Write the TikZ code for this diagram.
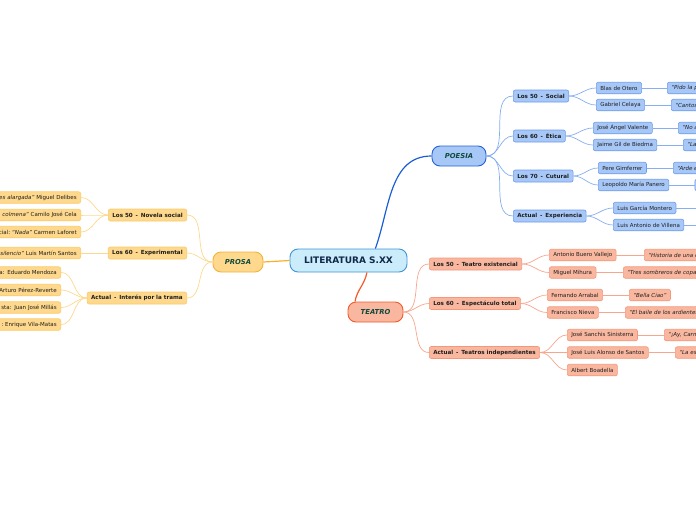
\documentclass[tikz,border=0pt]{standalone}
\usepackage{fontspec}
\setmainfont{DejaVu Sans}
\usetikzlibrary{positioning}
\definecolor{litF}{HTML}{CBEDFB}
\definecolor{litB}{HTML}{3F94D6}
\definecolor{litT}{HTML}{12284A}
\definecolor{verde}{HTML}{0E4A3C}
\definecolor{txt}{HTML}{1E1E1E}
\definecolor{proF}{HTML}{FED88C}
\definecolor{proB}{HTML}{F4B23A}
\definecolor{proS}{HTML}{FBCB6A}
\definecolor{proL}{HTML}{FDD890}
\definecolor{proM}{HTML}{F6B12A}
\definecolor{poeF}{HTML}{A7C7F7}
\definecolor{poeB}{HTML}{2563D9}
\definecolor{poeS}{HTML}{6E9CEC}
\definecolor{poeL}{HTML}{86AEF0}
\definecolor{poeM}{HTML}{1A5ED6}
\definecolor{teaF}{HTML}{F9B7A0}
\definecolor{teaB}{HTML}{F05C2C}
\definecolor{teaS}{HTML}{F4977A}
\definecolor{teaL}{HTML}{F7A68E}
\definecolor{teaM}{HTML}{F25A28}

\begin{document}
\begin{tikzpicture}[x=1pt,y=-1pt,
    box/.style={rounded corners=2pt,line width=0.6pt,inner xsep=4pt,inner ysep=0pt,minimum height=12pt,text=txt},
    rama/.style={box,font=\fontsize{5.6}{6.5}\selectfont\bfseries},
    hoja/.style={box,font=\fontsize{5.5}{6.5}\selectfont,minimum height=11.5pt},
    tema/.style={rounded corners=8pt,line width=0.9pt,minimum height=20pt,inner xsep=2pt,font=\fontsize{6.8}{8}\selectfont\bfseries\itshape,text=verde},
    cortaL/.style={anchor=east,text width=110pt,align=right},
    cortaR/.style={anchor=west,text width=150pt,align=left},
    pro/.style={draw=proS,fill=proF},
    poe/.style={draw=poeS,fill=poeF},
    tea/.style={draw=teaS,fill=teaF},
    lpro/.style={draw=proL,line width=0.7pt},
    lpoe/.style={draw=poeL,line width=0.7pt},
    ltea/.style={draw=teaL,line width=0.7pt}]
  \useasboundingbox (0,0) rectangle (696,520);
  \clip (0,0) rectangle (696,520);

  \node[rounded corners=8pt,draw=litB,fill=litF,line width=0.9pt,minimum width=117pt,minimum height=23pt,
        font=\fontsize{9}{10}\selectfont\bfseries,text=litT] (LIT) at (348.5,260.5) {LITERATURA S.XX};

  \node[tema,draw=proB,fill=proF,minimum width=50pt] (PRO) at (238,262) {PROSA};
  \node[tema,draw=poeB,fill=poeF,minimum width=54pt] (POE) at (459,156) {POESIA};
  \node[tema,draw=teaB,fill=teaF,minimum width=55pt] (TEA) at (375.5,312) {TEATRO};

  % prosa
  \node[rama,pro,anchor=east] (PRO1) at (187,215) {Los 50\,\ -\ \,Novela social};
  \node[rama,pro,anchor=east] (PRO2) at (187,253) {Los 60\,\ -\ \,Experimental};
  \node[rama,pro,anchor=east] (PRO3) at (187,298) {Actual\,\ -\ \,Interés por la trama};

  \node[hoja,pro,cortaL] (PRO1a) at (81,197.5) {\textit{es alargada”} Miguel Delibes};
  \node[hoja,pro,cortaL] (PRO1b) at (81,215) {\textit{a colmena”} Camilo José Cela};
  \node[hoja,pro,cortaL] (PRO1c) at (81,232) {cial:\ \textit{“Nada”} Carmen Laforet};
  \node[hoja,pro,cortaL] (PRO2a) at (81,253) {\textit{silencio”} Luis Martín Santos};
  \node[hoja,pro,cortaL] (PRO3a) at (61,272.5) {a: Eduardo Mendoza};
  \node[hoja,pro,cortaL] (PRO3b) at (61,290) {Arturo Pérez-Reverte};
  \node[hoja,pro,cortaL] (PRO3c) at (61,307.5) {sta: Juan José Millás};
  \node[hoja,pro,cortaL] (PRO3d) at (61,324.5) {:\ Enrique Vila-Matas};

  % poesia
  \node[rama,poe,anchor=west] (POE1) at (513,96) {Los 50\,\ -\ \,Social};
  \node[rama,poe,anchor=west] (POE2) at (513,136) {Los 60\,\ -\ \,Ética};
  \node[rama,poe,anchor=west] (POE3) at (513,176) {Los 70\,\ -\ \,Cutural};
  \node[rama,poe,anchor=west] (POE4) at (513,216) {Actual\,\ -\ \,Experiencia};

  \node[hoja,poe,anchor=west] (POE1a) at (596,88) {Blas de Otero};
  \node[hoja,poe,anchor=west] (POE1b) at (596,105) {Gabriel Celaya};
  \node[hoja,poe,anchor=west] (POE2a) at (593,128) {José Ángel Valente};
  \node[hoja,poe,anchor=west] (POE2b) at (593,145) {Jaime Gil de Biedma};
  \node[hoja,poe,anchor=west] (POE3a) at (598,168) {Pere Gimferrer};
  \node[hoja,poe,anchor=west] (POE3b) at (598,185) {Leopoldo María Panero};
  \node[hoja,poe,anchor=west] (POE4a) at (613,208) {Luis García Montero};
  \node[hoja,poe,anchor=west] (POE4b) at (613,225) {Luis Antonio de Villena};

  \node[hoja,poe,cortaR] (POE1a') at (667,88) {\textit{“Pido la p}};
  \node[hoja,poe,cortaR] (POE1b') at (671,105) {\textit{“Cantos}};
  \node[hoja,poe,cortaR] (POE2a') at (678,128) {\textit{“No a}};
  \node[hoja,poe,cortaR] (POE2b') at (683,145) {\textit{“La}};
  \node[hoja,poe,cortaR] (POE3a') at (673,168) {\textit{“Arde e}};
  \node[hoja,poe,anchor=west,minimum width=30pt] (POE3b') at (694.5,185) {};
  \coordinate (POE4a') at (700,208);
  \coordinate (POE4b') at (700,225);

  % teatro
  \node[rama,tea,anchor=west] (TEA1) at (429,264) {Los 50\,\ -\ \,Teatro existencial};
  \node[rama,tea,anchor=west] (TEA2) at (429,303.5) {Los 60\,\ -\ \,Espectáculo total};
  \node[rama,tea,anchor=west] (TEA3) at (429,352.5) {Actual\,\ -\ \,Teatros independientes};

  \node[hoja,tea,anchor=west] (TEA1a) at (549,255) {Antonio Buero Vallejo};
  \node[hoja,tea,anchor=west] (TEA1b) at (549,272.5) {Miguel Mihura};
  \node[hoja,tea,anchor=west] (TEA2a) at (547,295) {Fernando Arrabal};
  \node[hoja,tea,anchor=west] (TEA2b) at (547,312.5) {Francisco Nieva};
  \node[hoja,tea,anchor=west] (TEA3a) at (567,335) {José Sanchis Sinisterra};
  \node[hoja,tea,anchor=west] (TEA3b) at (567,352.5) {José Luis Alonso de Santos};
  \node[hoja,tea,anchor=west] (TEA3c) at (567,370) {Albert Boadella};

  \node[hoja,tea,cortaR] (TEA1a') at (644,255) {\textit{“Historia de una e}};
  \node[hoja,tea,cortaR] (TEA1b') at (623,272.5) {\textit{“Tres sombreros de copa}};
  \node[hoja,tea,anchor=west] (TEA2a') at (629,295) {\textit{“Bella Ciao”}};
  \node[hoja,tea,cortaR] (TEA2b') at (625,312.5) {\textit{“El baile de los ardientes}};
  \node[hoja,tea,cortaR] (TEA3a') at (664,335) {\textit{“¡Ay, Carm}};
  \node[hoja,tea,cortaR] (TEA3b') at (675,352.5) {\textit{“La es}};

  % main branches
  \draw[draw=proM,line width=1.2pt] (node cs:name=LIT, anchor=west) -- (node cs:name=PRO, anchor=east);
  \draw[draw=poeM,line width=1.2pt] (node cs:name=LIT, angle=24) to[out=70,in=180] (node cs:name=POE, anchor=west);
  \draw[draw=teaM,line width=1.2pt] (node cs:name=LIT, angle=-33) to[out=-100,in=80] (node cs:name=TEA, angle=153);

  \draw[lpro] (node cs:name=PRO, anchor=west) to[out=180,in=0] (node cs:name=PRO1, anchor=east);
  \draw[lpro] (node cs:name=PRO, anchor=west) to[out=180,in=0] (node cs:name=PRO2, anchor=east);
  \draw[lpro] (node cs:name=PRO, anchor=west) to[out=180,in=0] (node cs:name=PRO3, anchor=east);
  \draw[lpro] (node cs:name=PRO1, anchor=west) to[out=180,in=0] (node cs:name=PRO1a, anchor=east);
  \draw[lpro] (node cs:name=PRO1, anchor=west) to[out=180,in=0] (node cs:name=PRO1b, anchor=east);
  \draw[lpro] (node cs:name=PRO1, anchor=west) to[out=180,in=0] (node cs:name=PRO1c, anchor=east);
  \draw[lpro] (node cs:name=PRO2, anchor=west) -- (node cs:name=PRO2a, anchor=east);
  \draw[lpro] (node cs:name=PRO3, anchor=west) to[out=180,in=0] (node cs:name=PRO3a, anchor=east);
  \draw[lpro] (node cs:name=PRO3, anchor=west) to[out=180,in=0] (node cs:name=PRO3b, anchor=east);
  \draw[lpro] (node cs:name=PRO3, anchor=west) to[out=180,in=0] (node cs:name=PRO3c, anchor=east);
  \draw[lpro] (node cs:name=PRO3, anchor=west) to[out=180,in=0] (node cs:name=PRO3d, anchor=east);

  \draw[lpoe] (node cs:name=POE, anchor=east) to[out=0,in=180] (node cs:name=POE1, anchor=west);
  \draw[lpoe] (node cs:name=POE, anchor=east) to[out=0,in=180] (node cs:name=POE2, anchor=west);
  \draw[lpoe] (node cs:name=POE, anchor=east) to[out=0,in=180] (node cs:name=POE3, anchor=west);
  \draw[lpoe] (node cs:name=POE, anchor=east) to[out=0,in=180] (node cs:name=POE4, anchor=west);
  \draw[lpoe] (node cs:name=POE1, anchor=east) to[out=0,in=180] (node cs:name=POE1a, anchor=west);
  \draw[lpoe] (node cs:name=POE1, anchor=east) to[out=0,in=180] (node cs:name=POE1b, anchor=west);
  \draw[lpoe] (node cs:name=POE2, anchor=east) to[out=0,in=180] (node cs:name=POE2a, anchor=west);
  \draw[lpoe] (node cs:name=POE2, anchor=east) to[out=0,in=180] (node cs:name=POE2b, anchor=west);
  \draw[lpoe] (node cs:name=POE3, anchor=east) to[out=0,in=180] (node cs:name=POE3a, anchor=west);
  \draw[lpoe] (node cs:name=POE3, anchor=east) to[out=0,in=180] (node cs:name=POE3b, anchor=west);
  \draw[lpoe] (node cs:name=POE4, anchor=east) to[out=0,in=180] (node cs:name=POE4a, anchor=west);
  \draw[lpoe] (node cs:name=POE4, anchor=east) to[out=0,in=180] (node cs:name=POE4b, anchor=west);
  \draw[lpoe] (node cs:name=POE1a, anchor=east) -- (node cs:name=POE1a', anchor=west);
  \draw[lpoe] (node cs:name=POE1b, anchor=east) -- (node cs:name=POE1b', anchor=west);
  \draw[lpoe] (node cs:name=POE2a, anchor=east) -- (node cs:name=POE2a', anchor=west);
  \draw[lpoe] (node cs:name=POE2b, anchor=east) -- (node cs:name=POE2b', anchor=west);
  \draw[lpoe] (node cs:name=POE3a, anchor=east) -- (node cs:name=POE3a', anchor=west);
  \draw[lpoe] (node cs:name=POE3b, anchor=east) -- (node cs:name=POE3b', anchor=west);
  \draw[lpoe] (node cs:name=POE4a, anchor=east) -- (POE4a');
  \draw[lpoe] (node cs:name=POE4b, anchor=east) -- (POE4b');

  \draw[ltea] (node cs:name=TEA, anchor=east) to[out=0,in=180] (node cs:name=TEA1, anchor=west);
  \draw[ltea] (node cs:name=TEA, anchor=east) to[out=0,in=180] (node cs:name=TEA2, anchor=west);
  \draw[ltea] (node cs:name=TEA, anchor=east) to[out=0,in=180] (node cs:name=TEA3, anchor=west);
  \draw[ltea] (node cs:name=TEA1, anchor=east) to[out=0,in=180] (node cs:name=TEA1a, anchor=west);
  \draw[ltea] (node cs:name=TEA1, anchor=east) to[out=0,in=180] (node cs:name=TEA1b, anchor=west);
  \draw[ltea] (node cs:name=TEA2, anchor=east) to[out=0,in=180] (node cs:name=TEA2a, anchor=west);
  \draw[ltea] (node cs:name=TEA2, anchor=east) to[out=0,in=180] (node cs:name=TEA2b, anchor=west);
  \draw[ltea] (node cs:name=TEA3, anchor=east) to[out=0,in=180] (node cs:name=TEA3a, anchor=west);
  \draw[ltea] (node cs:name=TEA3, anchor=east) -- (node cs:name=TEA3b, anchor=west);
  \draw[ltea] (node cs:name=TEA3, anchor=east) to[out=0,in=180] (node cs:name=TEA3c, anchor=west);
  \draw[ltea] (node cs:name=TEA1a, anchor=east) -- (node cs:name=TEA1a', anchor=west);
  \draw[ltea] (node cs:name=TEA1b, anchor=east) -- (node cs:name=TEA1b', anchor=west);
  \draw[ltea] (node cs:name=TEA2a, anchor=east) -- (node cs:name=TEA2a', anchor=west);
  \draw[ltea] (node cs:name=TEA2b, anchor=east) -- (node cs:name=TEA2b', anchor=west);
  \draw[ltea] (node cs:name=TEA3a, anchor=east) -- (node cs:name=TEA3a', anchor=west);
  \draw[ltea] (node cs:name=TEA3b, anchor=east) -- (node cs:name=TEA3b', anchor=west);
\end{tikzpicture}
\end{document}
